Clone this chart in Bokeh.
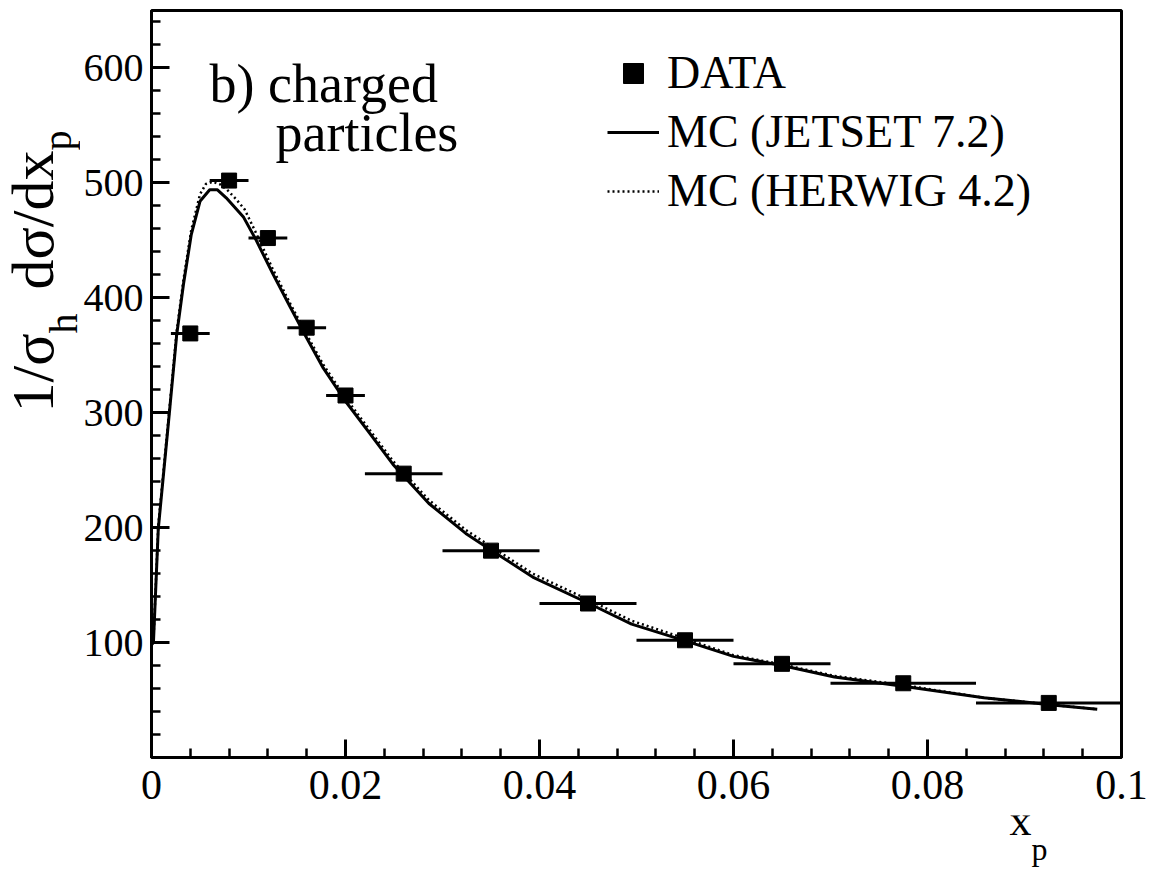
import math
from bokeh.plotting import figure
from bokeh.layouts import row, column
from bokeh.models import FixedTicker, Label, Legend, LegendItem, Range1d
from bokeh.core.properties import value
from bokeh.embed import file_html
from bokeh.resources import INLINE

# ---- data ----
data_x = [0.004, 0.008, 0.012, 0.016, 0.020, 0.026, 0.035, 0.045, 0.055, 0.065, 0.0775, 0.0925]
data_y = [369, 502, 452, 374, 315, 247, 180, 134, 102, 81.5, 64.6, 47.5]
bin_lo = [0.002, 0.006, 0.010, 0.014, 0.018, 0.022, 0.030, 0.040, 0.050, 0.060, 0.070, 0.085]
bin_hi = [0.006, 0.010, 0.014, 0.018, 0.022, 0.030, 0.040, 0.050, 0.060, 0.070, 0.085, 0.100]

jetset_x = [0, 0.0002, 0.0007, 0.0019, 0.0026, 0.0033, 0.0041, 0.0050, 0.0060, 0.0068,
            0.0077, 0.0095, 0.0108, 0.0125, 0.0143, 0.0160, 0.0177, 0.0200, 0.0225, 0.0249,
            0.0286, 0.0324, 0.0351, 0.0393, 0.0451, 0.0495, 0.0552, 0.0600, 0.0650, 0.0704,
            0.0775, 0.0858, 0.0926, 0.0975]
jetset_y = [98, 100, 199, 305, 368, 412, 455, 484, 494, 494,
            487, 470, 450, 421, 392, 365, 339, 310, 282, 255,
            221, 195, 180, 157, 134, 116, 101, 88, 80, 70,
            62, 52, 46, 42]

herwig_x = [0, 0.0002, 0.0007, 0.0019, 0.0026, 0.0033, 0.0041, 0.0050, 0.0056, 0.0063,
            0.0070, 0.0078, 0.0087, 0.0096, 0.0108, 0.0125, 0.0143, 0.0160, 0.0177, 0.0200,
            0.0225, 0.0249, 0.0286, 0.0324, 0.0351, 0.0393, 0.0451, 0.0495, 0.0552, 0.0600,
            0.0650, 0.0704, 0.0775, 0.0858, 0.0926, 0.0975]
herwig_y = [98, 102, 202, 308, 371, 416, 459, 490, 499, 501,
            499, 494, 486, 477, 456, 425, 395, 368, 342, 313,
            285, 258, 224, 198, 183, 160, 137, 119, 103, 89,
            81, 71, 63, 52, 46, 42]

x_ticks = [0, 0.02, 0.04, 0.06, 0.08, 0.1]
x_tick_labels = ["0", "0.02", "0.04", "0.06", "0.08", "0.1"]
x_minor = [0.004 * i for i in range(26)]
y_ticks = [100, 200, 300, 400, 500, 600]
y_minor = [20 * i for i in range(1, 33)]

series_labels = ["DATA", "MC (JETSET 7.2)", "MC (HERWIG 4.2)"]
title_lines = ["b) charged", "particles"]
y_title_main = ["1/σ", "dσ/dx"]
y_title_sub = ["h", "p"]
x_title_main, x_title_sub = "x", "p"

FONT = "Liberation Serif"
TOTAL_W, TOTAL_H = 1152, 875
LEFT_W = 80
FR_L, FR_R, FR_T, FR_B = 148, 1121, 10, 757   # plot frame on the page
MAIN_H = 815

# ---------------- main plot ----------------
p = figure(width=TOTAL_W - LEFT_W, height=MAIN_H, x_range=(0, 0.1), y_range=(0, 650),
           output_backend="svg", toolbar_location=None,
           min_border_left=FR_L - LEFT_W, min_border_right=TOTAL_W - FR_R,
           min_border_top=FR_T, min_border_bottom=MAIN_H - FR_B)
p.xgrid.visible = False
p.ygrid.visible = False
p.background_fill_color = "white"
p.border_fill_color = "white"
p.outline_line_color = "black"
p.outline_line_width = 3
p.outline_line_alpha = 1

for ax in (p.xaxis[0], p.yaxis[0]):
    ax.axis_line_width = 3
    ax.axis_line_color = "black"
    ax.major_tick_line_width = 3
    ax.minor_tick_line_width = 2.5
    ax.major_tick_line_color = "black"
    ax.minor_tick_line_color = "black"
    ax.major_tick_in = 18
    ax.major_tick_out = 0
    ax.minor_tick_in = 9
    ax.minor_tick_out = 0
    ax.major_label_text_font = FONT
    ax.major_label_text_color = "black"

p.xaxis.ticker = FixedTicker(ticks=x_ticks, minor_ticks=x_minor)
p.xaxis.major_label_overrides = {str(t): l for t, l in zip(x_ticks, x_tick_labels)}
p.xaxis.major_label_text_font_size = "42px"
p.xaxis.major_label_standoff = 13
p.yaxis.ticker = FixedTicker(ticks=y_ticks, minor_ticks=y_minor)
p.yaxis.major_label_text_font_size = "40px"
p.yaxis.major_label_standoff = 8

# MC curves
r_jet = p.line(jetset_x, jetset_y, line_color="black", line_width=3)
r_her = p.line(herwig_x, herwig_y, line_color="black", line_width=2.5, line_dash="2 3")

# data with x error bars
p.segment(x0=bin_lo, x1=bin_hi, y0=data_y, y1=data_y, line_color="black", line_width=3)
r_data = p.scatter(data_x, data_y, marker="square", size=15, fill_color="black", line_color="black")

legend = Legend(items=[LegendItem(label=series_labels[0], renderers=[r_data]),
                       LegendItem(label=series_labels[1], renderers=[r_jet]),
                       LegendItem(label=series_labels[2], renderers=[r_her])],
                location=(456, 540), label_text_font=FONT, label_text_font_size="46px",
                label_text_color="black", border_line_alpha=0, background_fill_alpha=0,
                glyph_width=52, glyph_height=50, label_height=50, spacing=6,
                padding=0, margin=0, label_standoff=8)
p.add_layout(legend)

# panel title
p.add_layout(Label(x=0.00598, y=560, text=title_lines[0], text_font=FONT,
                   text_font_size="54px", text_color="black"))
p.add_layout(Label(x=0.01278, y=517, text=title_lines[1], text_font=FONT,
                   text_font_size="54px", text_color="black"))

# ---------------- y-axis title strip (left); data units = page pixels ----------------
yl = figure(width=LEFT_W, height=MAIN_H, x_range=Range1d(0, LEFT_W), y_range=Range1d(FR_B, FR_T),
            output_backend="svg", toolbar_location=None, x_axis_type=None, y_axis_type=None,
            min_border_left=0, min_border_right=0, min_border_top=FR_T, min_border_bottom=MAIN_H - FR_B)
yl.outline_line_color = None
yl.xgrid.visible = False
yl.ygrid.visible = False
rot = math.pi / 2
yl.text(x=[32, 32], y=[372.5, 219.5], text=y_title_main, angle=rot,
        text_font=value(FONT), text_font_size=value("60px"), text_color="black",
        text_align="center", text_baseline="middle")
yl.text(x=[63, 57], y=[323, 140], text=y_title_sub, angle=rot,
        text_font=value(FONT), text_font_size=value("40px"), text_color="black",
        text_align="center", text_baseline="middle")

# ---------------- x-axis title strip (bottom); data units = page pixels ----------------
BOT_H = TOTAL_H - MAIN_H
xl = figure(width=TOTAL_W, height=BOT_H, x_range=Range1d(FR_L, FR_R), y_range=Range1d(TOTAL_H, MAIN_H),
            output_backend="svg", toolbar_location=None, x_axis_type=None, y_axis_type=None,
            min_border_left=FR_L, min_border_right=TOTAL_W - FR_R, min_border_top=0, min_border_bottom=0)
xl.outline_line_color = None
xl.xgrid.visible = False
xl.ygrid.visible = False
xl.text(x=[1020], y=[820], text=[x_title_main], text_font=value(FONT), text_font_size=value("44px"),
        text_color="black", text_align="center", text_baseline="middle")
xl.text(x=[1039], y=[848], text=[x_title_sub], text_font=value(FONT), text_font_size=value("32px"),
        text_color="black", text_align="center", text_baseline="middle")

layout = column(row(yl, p), xl)
open("out.html", "w").write(file_html(layout, INLINE))
